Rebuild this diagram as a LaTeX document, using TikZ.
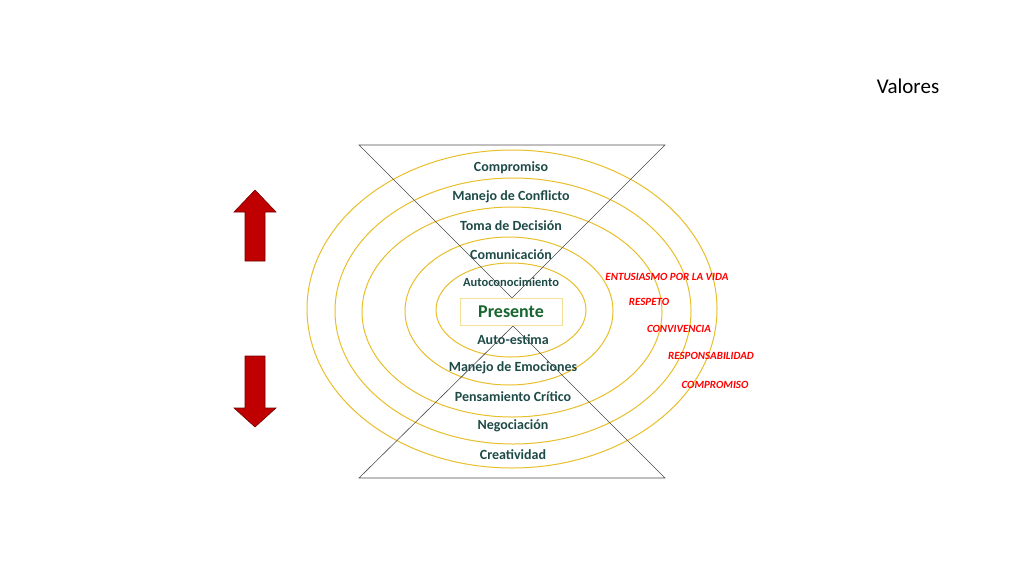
\documentclass[tikz,border=0pt]{standalone}
\usepackage{fontspec}
\setmainfont{Carlito}
\definecolor{ring}{HTML}{E8BE2A}
\definecolor{lbl}{HTML}{1E4B48}
\definecolor{pres}{HTML}{17652F}
\definecolor{arr}{HTML}{C00000}
\begin{document}
\begin{tikzpicture}[x=1pt,y=-1pt,
  ringst/.style={draw=ring,line width=1pt},
  lab/.style={text=lbl,font=\bfseries\fontsize{14}{14}\selectfont,inner sep=0pt},
  val/.style={text=red,font=\bfseries\itshape\fontsize{11}{11}\selectfont,inner sep=0pt},
  hg/.style={draw=black!70,line width=0.6pt},
  bigarrow/.style={fill=arr,draw=arr!60!black,line width=0.6pt}]
\useasboundingbox (0,0) rectangle (1024,576);
\draw[ringst] (512,309) ellipse (205 and 159);
\draw[ringst] (513,311) ellipse (178 and 133);
\draw[ringst] (512,312) ellipse (150 and 105);
\draw[ringst] (509,311) ellipse (104 and 74);
\draw[ringst] (511,310) ellipse (75 and 47);
\coordinate (tl) at (359,145); \coordinate (tr) at (665,145);
\coordinate (bl) at (359,478); \coordinate (br) at (665,478);
\coordinate (ta) at (512,298); \coordinate (ba) at (513,326);
\draw[hg] (tl) -- (tr) -- (ta) -- cycle;
\draw[hg] (bl) -- (br) -- (ba) -- cycle;
\node[draw=ring!50,fill=white,line width=0.8pt,minimum width=102pt,minimum height=27pt,inner sep=0pt,text=pres,font=\bfseries\fontsize{18}{18}\selectfont] (p) at (511,312) {Presente};
\node[lab] (a1) at (511,168) {Compromiso};
\node[lab] (a2) at (511,197) {Manejo de Conflicto};
\node[lab] (a3) at (511,226) {Toma de Decisión};
\node[lab] (a4) at (511,255) {Comunicación};
\node[lab,font=\bfseries\fontsize{12.5}{12.5}\selectfont] (a5) at (511,282) {Autoconocimiento};
\node[lab] (b1) at (513,340) {Auto-estima};
\node[lab] (b2) at (513,368) {Manejo de Emociones};
\node[lab] (b3) at (513,397) {Pensamiento Crítico};
\node[lab] (b4) at (513,426) {Negociación};
\node[lab] (b5) at (513,455) {Creatividad};
\node[val] (v1) at (667,277) {ENTUSIASMO POR LA VIDA};
\node[val] (v2) at (649,302) {RESPETO};
\node[val] (v3) at (679,329) {CONVIVENCIA};
\node[val] (v4) at (711,356) {RESPONSABILIDAD};
\node[val] (v5) at (715,385) {COMPROMISO};
\node[font=\fontsize{21}{21}\selectfont,inner sep=0pt] (t) at (908,86) {Valores};
\draw[bigarrow] (255,190) -- (276,212) -- (265,212) -- (265,261) -- (245,261) -- (245,212) -- (234,212) -- cycle;
\draw[bigarrow] (255,427) -- (276,408) -- (265,408) -- (265,356) -- (245,356) -- (245,408) -- (234,408) -- cycle;
\end{tikzpicture}
\end{document}
